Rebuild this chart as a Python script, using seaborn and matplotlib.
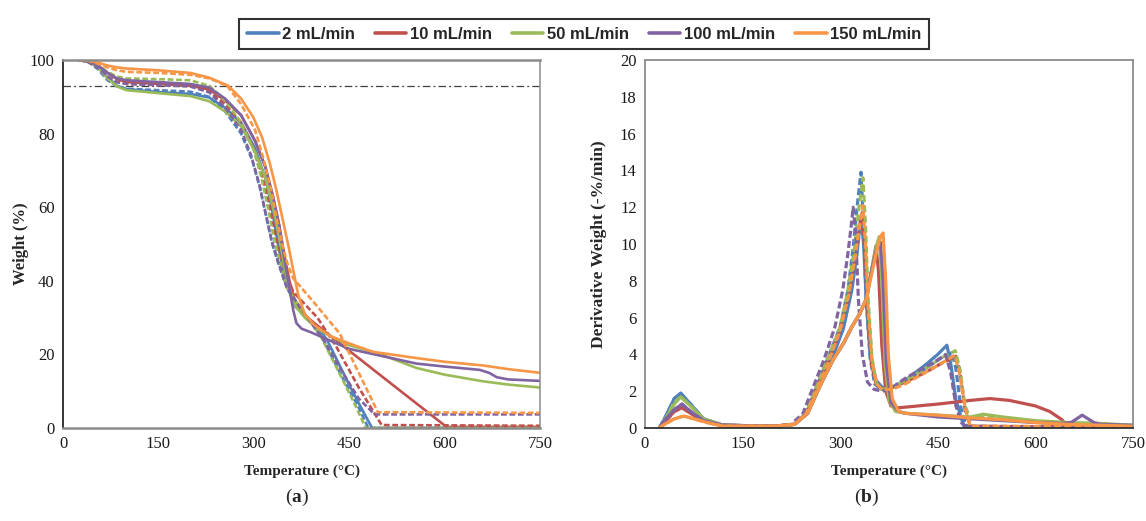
import matplotlib
matplotlib.use("Agg")
import matplotlib.pyplot as plt
from matplotlib.lines import Line2D
from matplotlib.font_manager import FontProperties
import pandas as pd
import seaborn as sns

# ---------------------------------------------------------------- data
RATES = ["2 mL/min", "10 mL/min", "50 mL/min", "100 mL/min", "150 mL/min"]
COLORS = ["#4F81BD", "#C0504D", "#9BBB59", "#8064A2", "#F79646"]

# TGA weight curves (Temperature in degC, weight in %), first run (solid)
tga_T_2s = [25, 40, 55, 70, 85, 100, 150, 200, 230, 255, 280, 302, 318, 328, 337, 346, 355, 365, 385, 400, 415, 435, 455, 475, 486, 750]
tga_W_2s = [100, 99.6, 98.0, 95.3, 93.0, 92.1, 91.3, 90.8, 89.8, 87.0, 83.0, 76.0, 68.0, 60.0, 51.0, 43.0, 37.5, 33.0, 30.0, 27.5, 24.0, 17.0, 10.0, 3.5, 0.0, 0.0]
tga_T_10s = [25, 40, 55, 70, 85, 100, 150, 200, 230, 255, 280, 302, 318, 330, 340, 348, 356, 364, 377, 450, 520, 603, 750]
tga_W_10s = [100, 99.6, 98.5, 96.5, 94.8, 94.0, 93.5, 93.0, 92.0, 89.0, 85.0, 78.0, 71.0, 63.0, 55.0, 47.0, 40.0, 35.0, 31.0, 21.0, 11.5, 0.3, 0.3]
tga_T_50s = [25, 40, 55, 70, 85, 100, 150, 200, 230, 255, 280, 302, 318, 330, 340, 348, 356, 366, 380, 400, 420, 450, 500, 556, 600, 660, 700, 750]
tga_W_50s = [100, 99.6, 98.0, 95.0, 92.8, 91.8, 91.0, 90.2, 88.8, 86.0, 82.0, 75.0, 68.0, 60.0, 52.0, 44.0, 38.0, 33.0, 30.0, 27.0, 25.0, 22.5, 20.0, 16.3, 14.5, 12.7, 11.8, 11.0]
tga_T_100s = [25, 40, 55, 70, 85, 100, 150, 200, 230, 255, 280, 302, 318, 330, 340, 348, 356, 362, 367, 375, 390, 410, 450, 503, 556, 600, 655, 670, 682, 700, 750]
tga_W_100s = [100, 99.6, 98.5, 96.5, 95.0, 94.5, 94.0, 93.5, 92.5, 89.5, 85.0, 78.0, 71.0, 63.0, 55.0, 46.0, 38.0, 32.0, 28.5, 27.0, 26.0, 24.5, 21.5, 19.5, 17.5, 16.7, 15.8, 15.0, 13.8, 13.2, 12.8]
tga_T_150s = [25, 40, 55, 70, 85, 100, 150, 200, 230, 260, 280, 299, 313, 325, 335, 345, 355, 363, 370, 380, 395, 420, 450, 487, 556, 600, 660, 700, 750]
tga_W_150s = [100, 99.8, 99.3, 98.5, 98.0, 97.7, 97.2, 96.5, 95.2, 93.0, 89.5, 84.5, 79.0, 72.0, 65.0, 57.0, 49.0, 42.0, 36.0, 31.0, 28.0, 25.0, 23.0, 20.7, 19.0, 18.0, 17.0, 16.0, 15.0]

# TGA weight curves, second run (dashed)
tga_T_2d = [25, 40, 55, 70, 85, 100, 150, 200, 230, 255, 280, 297, 310, 320, 329, 338, 348, 360, 380, 409, 440, 465, 480, 750]
tga_W_2d = [100, 99.4, 97.5, 94.5, 92.8, 92.2, 91.8, 91.4, 90.0, 86.0, 80.0, 73.0, 65.0, 57.0, 50.0, 45.0, 40.0, 35.5, 31.0, 24.0, 13.5, 5.5, 0.0, 0.0]
tga_T_10d = [25, 40, 55, 70, 85, 100, 150, 200, 230, 255, 280, 300, 314, 325, 335, 343, 352, 362, 400, 430, 465, 501, 750]
tga_W_10d = [100, 99.5, 98.0, 95.5, 94.0, 93.5, 93.2, 93.0, 91.5, 88.0, 83.0, 76.0, 68.0, 60.0, 52.0, 46.0, 41.0, 37.0, 30.0, 22.0, 11.0, 0.8, 0.6]
tga_T_50d = [25, 40, 55, 70, 85, 100, 150, 200, 230, 255, 280, 299, 312, 322, 331, 340, 352, 380, 405, 440, 460, 476, 750]
tga_W_50d = [100, 99.6, 98.6, 96.8, 95.5, 95.0, 94.8, 94.5, 93.0, 89.0, 83.0, 76.0, 68.0, 60.0, 52.0, 46.0, 38.0, 31.0, 25.0, 13.0, 6.0, 0.0, 0.0]
tga_T_100d = [25, 40, 55, 70, 85, 100, 150, 200, 230, 255, 280, 296, 309, 319, 328, 335, 352, 380, 410, 440, 465, 490, 750]
tga_W_100d = [100, 99.5, 98.0, 95.5, 94.0, 93.5, 93.2, 92.8, 91.2, 87.0, 81.0, 74.0, 66.0, 58.0, 51.0, 47.0, 38.0, 31.0, 24.0, 15.0, 8.0, 3.7, 3.7]
tga_T_150d = [25, 40, 55, 70, 85, 100, 150, 200, 230, 258, 280, 302, 317, 328, 337, 346, 354, 362, 400, 435, 465, 495, 750]
tga_W_150d = [100, 99.8, 99.0, 98.0, 97.2, 96.8, 96.5, 96.0, 95.0, 93.0, 88.0, 81.0, 72.0, 64.0, 56.0, 49.0, 44.0, 40.7, 33.0, 25.7, 15.0, 4.3, 4.1]

# DTG curves (derivative weight, -%/min), first run (solid)
dtg_T_2s = [22, 30, 45, 55, 70, 90, 120, 200, 230, 250, 262, 275, 290, 305, 318, 326, 332, 336, 340, 346, 355, 365, 380, 400, 430, 450, 464, 470, 478, 490, 750]
dtg_V_2s = [0.0, 0.5, 1.6, 1.9, 1.3, 0.5, 0.15, 0.1, 0.2, 0.8, 1.9, 2.9, 4.0, 5.4, 7.5, 9.5, 11.5, 10.0, 7.0, 4.0, 2.6, 2.2, 2.2, 2.6, 3.4, 4.0, 4.5, 3.5, 1.5, 0.1, 0.0]
dtg_T_10s = [22, 30, 45, 57, 70, 90, 120, 200, 230, 250, 264, 276, 289, 305, 318, 330, 340, 348, 355, 359, 364, 370, 378, 390, 450, 500, 530, 560, 600, 622, 641, 648, 750]
dtg_V_10s = [0.0, 0.3, 0.9, 1.1, 0.8, 0.4, 0.15, 0.1, 0.2, 0.8, 1.9, 2.8, 3.7, 4.6, 5.5, 6.2, 7.0, 8.5, 9.9, 8.5, 4.5, 2.0, 1.2, 1.1, 1.3, 1.5, 1.6, 1.5, 1.2, 0.9, 0.45, 0.1, 0.05]
dtg_T_50s = [22, 30, 45, 55, 70, 90, 120, 200, 230, 250, 264, 276, 289, 305, 318, 330, 340, 348, 355, 360, 364, 369, 375, 385, 400, 450, 500, 520, 550, 600, 650, 700, 750]
dtg_V_50s = [0.0, 0.4, 1.3, 1.7, 1.2, 0.5, 0.15, 0.1, 0.2, 0.8, 1.9, 2.8, 3.7, 4.6, 5.5, 6.2, 7.0, 8.5, 9.8, 10.4, 8.0, 3.5, 1.5, 0.9, 0.8, 0.7, 0.6, 0.75, 0.6, 0.4, 0.3, 0.25, 0.15]
dtg_T_100s = [22, 30, 45, 57, 70, 90, 120, 200, 230, 250, 264, 276, 289, 305, 318, 330, 340, 348, 356, 362, 366, 371, 378, 390, 400, 450, 500, 550, 600, 640, 655, 672, 690, 700, 750]
dtg_V_100s = [0.0, 0.4, 1.0, 1.3, 0.9, 0.4, 0.15, 0.1, 0.2, 0.8, 1.9, 2.8, 3.7, 4.6, 5.5, 6.2, 7.0, 8.5, 9.7, 10.1, 8.0, 3.5, 1.4, 0.9, 0.8, 0.6, 0.5, 0.4, 0.3, 0.25, 0.3, 0.7, 0.3, 0.2, 0.15]
dtg_T_150s = [22, 30, 45, 60, 75, 95, 120, 200, 230, 250, 264, 276, 289, 305, 318, 330, 340, 348, 356, 362, 366, 370, 374, 380, 390, 400, 450, 500, 550, 600, 650, 700, 750]
dtg_V_150s = [0.0, 0.2, 0.5, 0.65, 0.5, 0.3, 0.1, 0.1, 0.2, 0.8, 1.9, 2.8, 3.7, 4.6, 5.5, 6.2, 7.0, 8.3, 9.6, 10.4, 10.6, 8.0, 4.0, 1.6, 0.9, 0.8, 0.7, 0.55, 0.45, 0.3, 0.2, 0.15, 0.1]

# DTG curves, second run (dashed)
dtg_T_2d = [22, 30, 45, 55, 70, 90, 120, 200, 230, 248, 260, 280, 300, 312, 320, 326, 332, 336, 340, 346, 353, 362, 380, 400, 430, 455, 472, 478, 485, 492, 500, 750]
dtg_V_2d = [0.0, 0.5, 1.6, 1.85, 1.3, 0.5, 0.15, 0.1, 0.2, 0.8, 1.9, 3.7, 5.5, 7.5, 9.8, 12.0, 13.9, 11.0, 7.0, 3.8, 2.4, 2.1, 2.2, 2.6, 3.2, 3.8, 4.1, 3.2, 1.2, 0.2, 0.05, 0.0]
dtg_T_10d = [22, 30, 45, 57, 70, 90, 120, 200, 230, 248, 260, 280, 300, 312, 322, 329, 334, 338, 342, 348, 355, 364, 380, 400, 430, 455, 478, 485, 492, 500, 750]
dtg_V_10d = [0.0, 0.3, 0.9, 1.1, 0.8, 0.4, 0.15, 0.1, 0.2, 0.8, 1.8, 3.5, 5.3, 7.0, 9.0, 10.8, 11.7, 9.5, 6.5, 3.5, 2.4, 2.1, 2.2, 2.5, 3.0, 3.5, 3.9, 2.8, 1.0, 0.1, 0.05]
dtg_T_50d = [22, 30, 45, 55, 70, 90, 120, 200, 230, 248, 260, 280, 300, 312, 322, 329, 335, 339, 343, 349, 356, 364, 380, 400, 430, 455, 477, 484, 492, 500, 520, 600, 750]
dtg_V_50d = [0.0, 0.4, 1.4, 1.7, 1.2, 0.5, 0.15, 0.1, 0.2, 0.8, 1.9, 3.7, 5.5, 7.5, 9.8, 12.0, 13.6, 11.0, 7.0, 3.8, 2.4, 2.1, 2.2, 2.6, 3.2, 3.8, 4.2, 3.2, 1.2, 0.5, 0.6, 0.3, 0.15]
dtg_T_100d = [22, 30, 45, 57, 70, 90, 120, 200, 225, 243, 255, 275, 292, 304, 312, 317, 320, 324, 328, 334, 342, 352, 365, 380, 400, 430, 450, 462, 470, 478, 486, 495, 750]
dtg_V_100d = [0.0, 0.4, 1.0, 1.3, 0.9, 0.4, 0.15, 0.1, 0.2, 0.8, 1.9, 3.7, 5.5, 7.5, 9.5, 11.0, 12.0, 10.5, 7.0, 4.0, 2.5, 2.1, 2.0, 2.2, 2.7, 3.3, 3.7, 4.0, 3.0, 1.2, 0.3, 0.05, 0.0]
dtg_T_150d = [22, 30, 45, 60, 75, 95, 120, 200, 230, 248, 262, 282, 300, 313, 323, 330, 335, 339, 343, 349, 356, 364, 380, 400, 430, 455, 476, 484, 492, 500, 750]
dtg_V_150d = [0.0, 0.2, 0.5, 0.65, 0.5, 0.3, 0.1, 0.1, 0.2, 0.8, 1.9, 3.6, 5.3, 7.2, 9.3, 11.0, 12.1, 10.0, 6.5, 3.6, 2.4, 2.1, 2.1, 2.4, 3.0, 3.5, 3.95, 2.9, 1.1, 0.1, 0.05]

ONSET_LEVEL = 93  # reference weight level marked on the TGA panel

# ---------------------------------------------------------------- tables
tga_runs = [
    (RATES[0], "run 1", tga_T_2s, tga_W_2s), (RATES[0], "run 2", tga_T_2d, tga_W_2d),
    (RATES[1], "run 1", tga_T_10s, tga_W_10s), (RATES[1], "run 2", tga_T_10d, tga_W_10d),
    (RATES[2], "run 1", tga_T_50s, tga_W_50s), (RATES[2], "run 2", tga_T_50d, tga_W_50d),
    (RATES[3], "run 1", tga_T_100s, tga_W_100s), (RATES[3], "run 2", tga_T_100d, tga_W_100d),
    (RATES[4], "run 1", tga_T_150s, tga_W_150s), (RATES[4], "run 2", tga_T_150d, tga_W_150d),
]
dtg_runs = [
    (RATES[0], "run 1", dtg_T_2s, dtg_V_2s), (RATES[0], "run 2", dtg_T_2d, dtg_V_2d),
    (RATES[1], "run 1", dtg_T_10s, dtg_V_10s), (RATES[1], "run 2", dtg_T_10d, dtg_V_10d),
    (RATES[2], "run 1", dtg_T_50s, dtg_V_50s), (RATES[2], "run 2", dtg_T_50d, dtg_V_50d),
    (RATES[3], "run 1", dtg_T_100s, dtg_V_100s), (RATES[3], "run 2", dtg_T_100d, dtg_V_100d),
    (RATES[4], "run 1", dtg_T_150s, dtg_V_150s), (RATES[4], "run 2", dtg_T_150d, dtg_V_150d),
]


def to_frame(runs):
    rows = []
    for rate, run, ts, vs in runs:
        for t, v in zip(ts, vs):
            rows.append({"T": t, "v": v, "rate": rate, "run": run})
    return pd.DataFrame(rows)


df_tga = to_frame(tga_runs)
df_dtg = to_frame(dtg_runs)

# ---------------------------------------------------------------- style
sns.set_theme(style="white")
plt.rcParams["font.family"] = ["Liberation Serif", "DejaVu Serif"]
plt.rcParams["mathtext.fontset"] = "custom"
plt.rcParams["mathtext.rm"] = "Liberation Serif"
plt.rcParams["mathtext.bf"] = "Liberation Serif:bold"

fig = plt.figure(figsize=(11.46, 5.21), dpi=100)
ax1 = fig.add_axes([0.0550, 0.1785, 0.4162, 0.7063])
ax2 = fig.add_axes([0.5628, 0.1785, 0.4258, 0.7063])

dash_map = {"run 1": "", "run 2": (2.2, 1.0)}

sns.lineplot(data=df_tga, x="T", y="v", hue="rate", style="run",
             hue_order=RATES, style_order=["run 1", "run 2"], palette=COLORS,
             dashes=dash_map, estimator=None, sort=False, legend=False,
             linewidth=1.9, ax=ax1)
ax1.axhline(ONSET_LEVEL, color="#404040", lw=0.9, dashes=(6, 2.5, 1.5, 2.5), zorder=1)

sns.lineplot(data=df_dtg, x="T", y="v", hue="rate", style="run",
             hue_order=RATES, style_order=["run 1", "run 2"], palette=COLORS,
             dashes=dash_map, estimator=None, sort=False, legend=False,
             linewidth=2.3, ax=ax2)

GRAY = "#8c8c8c"
tick_font = 12

for ax in (ax1, ax2):
    ax.set_xlim(0, 750)
    ax.set_xticks([0, 150, 300, 450, 600, 750])
    ax.tick_params(axis="both", direction="out", length=4, width=1,
                   labelsize=tick_font, pad=2, labelcolor="#1a1a1a")
    ax.set_xlabel("Temperature (°C)", fontsize=11, fontweight="bold")
    ax.xaxis.set_label_coords(0.5, -0.1)

ax1.set_ylim(0, 100)
ax1.set_yticks([0, 20, 40, 60, 80, 100])
ax1.set_ylabel("Weight (%)", fontsize=12, fontweight="bold")
ax1.yaxis.set_label_coords(-0.072, 0.5)
ax1.spines["left"].set_color("black")
ax1.spines["left"].set_linewidth(1.1)
for s in ("top", "bottom", "right"):
    ax1.spines[s].set_color(GRAY)
ax1.spines["top"].set_linewidth(1.8)
ax1.spines["bottom"].set_linewidth(1.8)
ax1.spines["right"].set_linewidth(1.1)
ax1.tick_params(axis="y", colors="black", labelcolor="#1a1a1a")
ax1.tick_params(axis="x", colors=GRAY, labelcolor="#1a1a1a")

ax2.set_ylim(0, 20)
ax2.set_yticks(range(0, 21, 2))
ax2.set_ylabel("Derivative Weight (-%/min)", fontsize=12.5, fontweight="bold")
ax2.yaxis.set_label_coords(-0.078, 0.5)
for s in ("top", "left", "right"):
    ax2.spines[s].set_color(GRAY)
    ax2.spines[s].set_linewidth(1.3)
ax2.spines["bottom"].set_color("#303030")
ax2.spines["bottom"].set_linewidth(1.3)
ax2.tick_params(axis="y", colors=GRAY, labelcolor="#1a1a1a")
ax2.tick_params(axis="x", colors="#303030", labelcolor="#1a1a1a")

# shared legend above the panels
handles = [Line2D([0], [0], color=c, lw=2.6) for c in COLORS]
leg = fig.legend(handles, RATES, loc="center", bbox_to_anchor=(0.5096, 0.9347),
                 ncol=5, frameon=True, fancybox=False, edgecolor="black",
                 handlelength=1.9, handletextpad=0.2, columnspacing=1.2,
                 borderpad=0.45,
                 prop=FontProperties(family=["Liberation Sans Narrow", "Liberation Sans"],
                                     weight="bold", size=12))
leg.get_frame().set_linewidth(1.5)

# panel captions
fig.text(297 / 1146, 1 - 497 / 521, r"($\mathbf{a}$)", ha="center", va="center", fontsize=14)
fig.text(867 / 1146, 1 - 497 / 521, r"($\mathbf{b}$)", ha="center", va="center", fontsize=14)

fig.savefig("out.png", dpi=100)
